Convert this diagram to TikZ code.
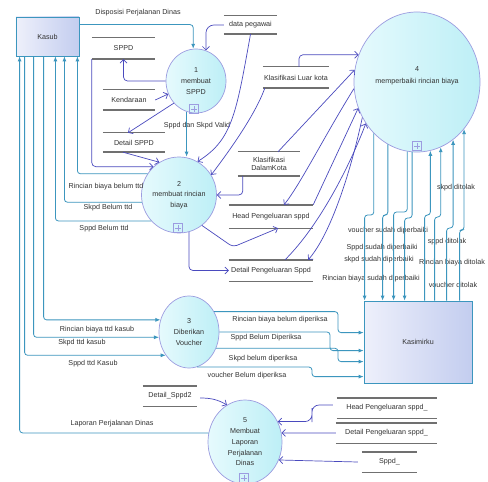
\documentclass[tikz,border=0pt]{standalone}
\usepackage{fontspec}
\setmainfont{Liberation Sans}
\usetikzlibrary{shapes.geometric,arrows.meta,calc}
\definecolor{tealc}{HTML}{3C96BE}
\definecolor{purp}{HTML}{4A4ABE}
\definecolor{storeg}{HTML}{707070}
\definecolor{cborder}{HTML}{9C9CE0}
\definecolor{cfillA}{HTML}{E6FAFD}
\definecolor{cfillB}{HTML}{BDEFF6}
\definecolor{kasA}{HTML}{EEF0FB}
\definecolor{kasB}{HTML}{C3CDEF}
\definecolor{txt}{HTML}{333333}
\begin{document}
\begin{tikzpicture}[x=1bp,y=-1bp,
  font=\fontsize{7.2}{8.5}\selectfont, text=txt,
  proc/.style={ellipse, draw=cborder, line width=0.7bp, left color=cfillA, right color=cfillB,
    inner sep=0pt, align=center, font=\fontsize{7.2}{10.8}\selectfont},
  ent/.style={rectangle, draw=tealc, line width=0.8bp, left color=kasA, right color=kasB},
  store/.style={inner sep=0pt, align=center},
  storeline/.style={draw=storeg, line width=1.4bp},
  tflow/.style={draw=tealc, line width=0.8bp, rounded corners=3bp, -{Latex[length=5bp,width=4bp]}},
  pflow/.style={draw=purp, line width=0.7bp, rounded corners=4bp, -{Straight Barb[length=3.5bp,width=7bp]}},
  lbl/.style={inner sep=0pt},
  plusbox/.style={draw=cborder, line width=0.6bp, minimum size=9bp, inner sep=0pt,
    path picture={\draw[cborder, line width=0.6bp]
      ([xshift=-3bp]path picture bounding box.center) -- ([xshift=3bp]path picture bounding box.center)
      ([yshift=-3bp]path picture bounding box.center) -- ([yshift=3bp]path picture bounding box.center);}}
]
\fill[white] (0,0) rectangle (488,482);
\useasboundingbox (0,0) rectangle (488,482);

% external entities
\node[ent, minimum width=63bp, minimum height=39bp] (kasub) at (47.5,36.5) {Kasub};
\node[ent, minimum width=108bp, minimum height=82bp] (kasi) at (418,342) {Kasimirku};

% processes
\node[proc, minimum width=60bp, minimum height=64bp] (c1) at (196,81) {1\\membuat\\SPPD};
\node[proc, minimum width=70bp, minimum height=76bp] (c2) at (179,195) {2\\membuat rincian\\biaya};
\node[proc, minimum width=60bp, minimum height=72bp] (c3) at (189,332) {3\\Diberikan\\Voucher};
\node[proc, minimum width=126bp, minimum height=140bp] (c4) at (417,82) {};
\node[lbl, align=center, font=\fontsize{7.2}{11.5}\selectfont] (c4t) at (417,76) {4\\memperbaiki rincian biaya};
\node[proc, minimum width=74bp, minimum height=84bp] (c5) at (245,442) {5\\Membuat\\Laporan\\Perjalanan\\Dinas};
\node[plusbox] (p1) at (194,109) {};
\node[plusbox] (p2) at (178,228) {};
\node[plusbox] (p4) at (417,146) {};
\node[plusbox] (p5) at (244,478) {};

% data stores
\node[store, minimum width=63bp, minimum height=21bp] (sppd) at (123.5,48.5) {SPPD};
\node[store, minimum width=53bp, minimum height=18bp] (dpeg) at (250.5,25) {data pegawai};
\node[store, minimum width=52bp, minimum height=20bp] (kend) at (129,100) {Kendaraan};
\node[store, minimum width=62bp, minimum height=19bp] (dsppd) at (134,142.5) {Detail SPPD};
\node[store, minimum width=66bp, minimum height=21bp] (kluar) at (296,77.5) {Klasifikasi Luar kota};
\node[store, minimum width=62bp, minimum height=24bp] (kdalam) at (269,164) {Klasifikasi\\DalamKota};
\node[store, minimum width=84bp, minimum height=23bp] (head) at (271,216.5) {Head Pengeluaran sppd};
\node[store, minimum width=84bp, minimum height=21bp] (detp) at (271,270.5) {Detail Pengeluaran Sppd};
\node[store, minimum width=54bp, minimum height=20bp] (dsppd2) at (170,396) {Detail\_Sppd2};
\node[store, minimum width=100bp, minimum height=20bp] (headb) at (387,408) {Head Pengeluaran sppd\_};
\node[store, minimum width=101bp, minimum height=20bp] (detpb) at (386.5,433) {Detail Pengeluaran sppd\_};
\node[store, minimum width=55bp, minimum height=20bp] (sppdb) at (389.5,462) {Sppd\_};
\foreach \s in {sppd,dpeg,kend,dsppd,kluar,kdalam,head,detp,dsppd2,headb,detpb,sppdb}
  \draw[storeline] (\s.north west) -- (\s.north east) (\s.south west) -- (\s.south east);

% flow labels
\node[lbl] (l1) at (138,13) {Disposisi Perjalanan Dinas};
\node[lbl] (l2) at (197,126) {Sppd dan Skpd Valid};
\node[lbl] (l3) at (106,187) {Rincian biaya belum ttd};
\node[lbl] (l4) at (108,208) {Skpd Belum ttd};
\node[lbl] (l5) at (104,229) {Sppd Belum ttd};
\node[lbl] (l6) at (97,330) {Rincian biaya ttd kasub};
\node[lbl] (l7) at (82,343) {Skpd ttd kasub};
\node[lbl] (l8) at (93,364) {Sppd ttd Kasub};
\node[lbl] (l9) at (112,424) {Laporan Perjalanan Dinas};
\node[lbl] (l10) at (280,320) {Rincian biaya belum diperiksa};
\node[lbl] (l11) at (266,338) {Sppd Belum Diperiksa};
\node[lbl] (l12) at (263,359) {Skpd belum diperiksa};
\node[lbl] (l13) at (247,376) {voucher Belum diperiksa};
\node[lbl] (l14) at (388,231) {voucher sudah diperbaiki};
\node[lbl] (l15) at (382,248) {Sppd sudah diperbaiki};
\node[lbl] (l16) at (379,260) {skpd sudah diperbaiki};
\node[lbl] (l17) at (371,279) {Rincian biaya sudah diperbaiki};
\node[lbl] (l18) at (456,188) {skpd ditolak};
\node[lbl] (l19) at (447,242) {sppd ditolak};
\node[lbl] (l20) at (452,263) {Rincian biaya ditolak};
\node[lbl] (l21) at (453,285) {voucher ditolak};

% teal flows (external entities)
\draw[tflow] ($(kasub.north east)+(0,8)$) -| (c1.95);
\draw[tflow] (c1.253) -- (c1.253 |- c2.north);
\draw[tflow] (c2.146) -| ($(kasub.south east)+(-2,0)$);
\draw[tflow] (c2.191) -| ($(kasub.south east)+(-15,0)$);
\draw[tflow] (c2.223) -| ($(kasub.south east)+(-24,0)$);
\draw[tflow] ($(kasub.south west)+(28,0)$) |- (c3.157);
\draw[tflow] ($(kasub.south west)+(18,0)$) |- (c3.190);
\draw[tflow] ($(kasub.south west)+(9,0)$) |- (c3.225);
\draw[tflow] (c5.166) -| ($(kasub.south west)+(4,0)$);
\draw[tflow] (c3.39) -- (c3.39 -| 338,0) |- ($(kasi.north west)+(0,32)$);
\draw[tflow] (c3.east) -- (c3.east -| 330,0) |- ($(kasi.north west)+(0,50)$);
\draw[tflow] (c3.-31) -- (c3.-31 -| 338,0) |- ($(kasi.north west)+(0,61)$);
\draw[tflow] (c3.-77) -- (c3.-77 -| 312,0) |- ($(kasi.north west)+(0,76)$);
% circle 4 <-> Kasimirku
\draw[tflow] (c4.230) -- (c4.230 |- 0,215) -| ($(kasi.north west)+(1,0)$);
\draw[tflow] (c4.245) -- (c4.245 |- 0,215) -| ($(kasi.north west)+(19,0)$);
\draw[tflow] (c4.262) -- (c4.262 |- 0,212) -| ($(kasi.north west)+(30,0)$);
\draw[tflow] (c4.266) -- (c4.266 |- 0,218) -| ($(kasi.north west)+(41,0)$);
\draw[tflow] ($(kasi.north west)+(61,0)$) |- (c4.-79 |- 0,215) -- (c4.-79);
\draw[tflow] ($(kasi.north west)+(71,0)$) |- (c4.-70 |- 0,217) -- (c4.-70);
\draw[tflow] ($(kasi.north west)+(83,0)$) |- (c4.-58 |- 0,228) -- (c4.-58);
\draw[tflow] ($(kasi.north west)+(96,0)$) |- (c4.-45 |- 0,230) -- (c4.-45);

% purple flows (data stores)
\draw[pflow, rounded corners=8bp] (dpeg.west) -| (c1.72);
\draw[pflow] (c1.180) -| (sppd.south);
\draw[pflow] (kend.east) -- (c1.205);
\draw[pflow] (c1.225) -- ($(dsppd.north)+(-6,0)$);
\draw[pflow] ($(dsppd.south)+(-11,0)$) -- (c2.121);
\draw[pflow] (sppd.south west) |- (c2.132);
\draw[pflow] (dpeg.south) .. controls (236,115) and (232,140) .. (c2.61);
\draw[pflow] ($(kluar.north)+(3,0)$) |- (c4.155);
\draw[pflow] ($(kluar.south west)+(2,0)$) .. controls (255,115) and (230,150) .. (c2.32);
\draw[pflow] ($(kdalam.south west)+(5,0)$) |- (c2.east);
\draw[pflow] ($(kdalam.north)+(9,0)$) -- (c4.169);
\draw[pflow] (c4.186) .. controls (325,135) and (300,185) .. ($(head.north)+(13,0)$);
\draw[pflow] (head.north east) -- (c4.204);
\draw[pflow] (c4.213) .. controls (350,175) and (330,235) .. ($(detp.north east)+(-5,0)$);
\draw[pflow] ($(detp.north)+(14,0)$) .. controls (320,225) and (350,165) .. (c4.219);
\draw[pflow] (c2.-53) -- (233,247) -- ($(head.south)+(7,0)$);
\draw[pflow] (c2.-75) |- (detp.west);
\draw[pflow] ($(dsppd2.east)+(3,2)$) to[out=0,in=150] (c5.116);
\draw[pflow, rounded corners=7bp] ($(headb.west)+(-4,-3)$) -| (312,415) |- (c5.32);
\draw[pflow] (detpb.west) -- (c5.14);
\draw[pflow] ($(sppdb.west)+(-4,0)$) -- (c5.-28);
\end{tikzpicture}
\end{document}
